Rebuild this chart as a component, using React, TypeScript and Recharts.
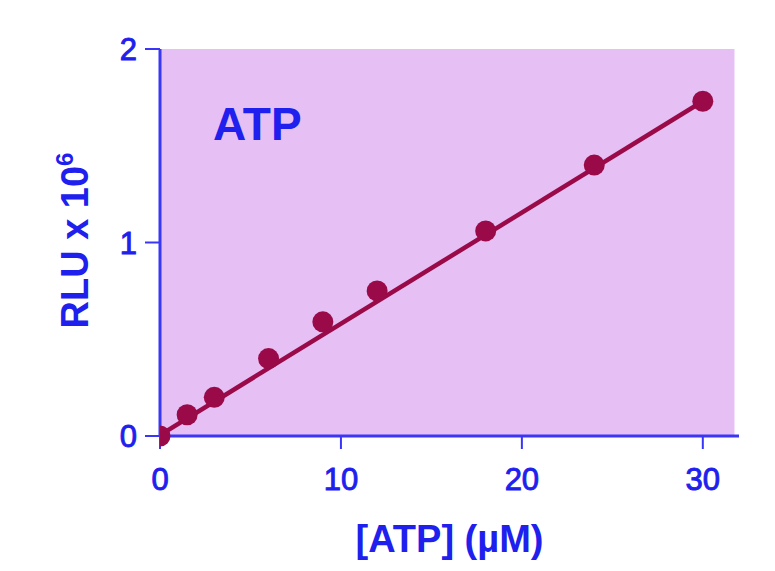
import React from 'react';
import { ComposedChart, Scatter, Line, XAxis, YAxis, ReferenceArea } from 'recharts';

const atpConc = [0, 1.5, 3, 6, 9, 12, 18, 24, 30];
const rlu = [0, 0.11, 0.2, 0.4, 0.59, 0.75, 1.06, 1.4, 1.73];
const fitX = [0, 30];
const fitY = [0.005, 1.73];
const xTicks = [0, 10, 20, 30];
const yTicks = [0, 1, 2];

const points = atpConc.map((x, i) => ({ x, y: rlu[i] }));
const fit = fitX.map((x, i) => ({ x, y: fitY[i] }));

const BLUE = '#2020ee';
const AXIS = '#3a36f8';
const PINK = '#e6bff4';
const RED = '#9a0a48';
const FONT = '"Liberation Sans", Arial, Helvetica, sans-serif';

const Dot = (p: any) => <circle cx={p.cx} cy={p.cy} r={10.5} fill={RED} />;

const tickStyle = { fill: BLUE, fontSize: 31, fontFamily: FONT, stroke: BLUE, strokeWidth: 0.9 };

export default function App() {
  return (
    <div style={{ fontFamily: FONT }}>
      <ComposedChart width={759} height={555} margin={{ top: 41, right: 28, bottom: 0, left: 0 }}>
        <XAxis
          type="number"
          dataKey="x"
          domain={[0, 32]}
          ticks={xTicks}
          allowDataOverflow
          height={127}
          axisLine={{ stroke: AXIS, strokeWidth: 3 }}
          tickLine={{ stroke: AXIS, strokeWidth: 2 }}
          tickSize={13}
          tickMargin={19}
          tick={tickStyle}
          label={{ value: '[ATP] (µM)', position: 'insideBottom', offset: 11, fill: BLUE, fontSize: 38, fontWeight: 'bold', fontFamily: FONT }}
        />
        <YAxis
          type="number"
          dataKey="y"
          domain={[0, 2]}
          ticks={yTicks}
          width={152}
          axisLine={{ stroke: AXIS, strokeWidth: 3 }}
          tickLine={{ stroke: AXIS, strokeWidth: 2 }}
          tickSize={15}
          tickMargin={8}
          tick={tickStyle}
          label={(props: any) => {
            const vb = props.viewBox || { x: 0, y: 41, width: 152, height: 387 };
            const cx = vb.x + 80;
            const cy = vb.y + vb.height / 2 - 2;
            return (
              <text
                x={cx}
                y={cy}
                transform={`rotate(-90 ${cx} ${cy})`}
                textAnchor="middle"
                fill={BLUE}
                fontSize={38}
                fontWeight="bold"
                fontFamily={FONT}
              >
                RLU x 10
                <tspan dy={-15} fontSize={24}>6</tspan>
              </text>
            );
          }}
        />
        <ReferenceArea
          x1={0}
          x2={31.75}
          y1={0}
          y2={2}
          fill={PINK}
          fillOpacity={1}
          stroke="none"
          ifOverflow="visible"
          label={(props: any) => {
            const vb = props.viewBox || { x: 152, y: 41 };
            return (
              <text x={vb.x + 53} y={vb.y + 91} fill={BLUE} fontSize={46} fontWeight="bold" fontFamily={FONT}>
                ATP
              </text>
            );
          }}
        />
        <Line
          data={fit}
          dataKey="y"
          type="linear"
          stroke={RED}
          strokeWidth={4.5}
          dot={false}
          activeDot={false}
          isAnimationActive={false}
        />
        <Scatter data={points} dataKey="y" fill={RED} shape={Dot} isAnimationActive={false} />
      </ComposedChart>
    </div>
  );
}
